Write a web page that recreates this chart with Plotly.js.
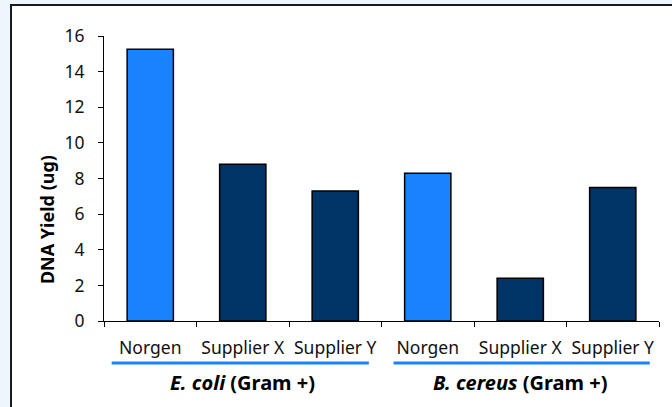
<!DOCTYPE html>
<html>
<head>
<meta charset="utf-8">
<script src="https://cdn.plot.ly/plotly-3.0.1.min.js"></script>
<style>
  html, body { margin: 0; padding: 0; background: #eef5fd; }
  #frame { position: absolute; left: 10px; top: 4px; width: 700px; height: 450px; background: #ffffff; border-left: 2px solid #1a1a1a; border-top: 2px solid #1a1a1a; }
  #chart { position: absolute; left: 0; top: 0; width: 672px; height: 407px; }
</style>
</head>
<body>
<div id="frame"></div>
<div id="chart"></div>
<script>
// Data
const categoryIds = ['E_Norgen', 'E_SupplierX', 'E_SupplierY', 'B_Norgen', 'B_SupplierX', 'B_SupplierY'];
const categoryLabels = ['Norgen', 'Supplier X', 'Supplier Y', 'Norgen', 'Supplier X', 'Supplier Y'];
const yieldValues = [15.25, 8.8, 7.3, 8.3, 2.4, 7.5];
const groupLabels = ['<i>E. coli</i> (Gram +)', '<i>B. cereus</i> (Gram +)'];
const groupCenters = [1, 4];
const yTicks = [0, 2, 4, 6, 8, 10, 12, 14, 16];
const yTitle = 'DNA Yield (ug)';

const lightBlue = '#1a82ff';
const navy = '#003366';
const barColors = categoryLabels.map(l => l === 'Norgen' ? lightBlue : navy);

const font = '"Noto Sans", "Open Sans", sans-serif';
const textColor = '#111111';

const trace = {
  type: 'bar',
  x: categoryIds,
  y: yieldValues,
  marker: { color: barColors, line: { color: '#000000', width: 1.5 } },
  hoverinfo: 'skip'
};

const annotations = groupLabels.map((t, i) => ({
  text: '<b>' + t + '</b>',
  x: groupCenters[i], xref: 'x',
  y: 0, yref: 'paper',
  yanchor: 'middle', xanchor: 'center',
  yshift: -61,
  showarrow: false,
  font: { family: font, size: 20, color: '#000000' }
}));

annotations.push({
  text: '<b>' + yTitle + '</b>',
  textangle: -90,
  xref: 'paper', yref: 'paper',
  x: -0.1027, y: 0.354,
  xanchor: 'center', yanchor: 'middle',
  showarrow: false,
  font: { family: font, size: 18, color: '#000000' }
});

const shapes = [
  { x0: -0.417, x1: 2.363 },
  { x0: 2.63, x1: 5.40 }
].map(s => ({
  type: 'line', xref: 'x', yref: 'paper',
  x0: s.x0, x1: s.x1, y0: -0.147, y1: -0.147,
  line: { color: lightBlue, width: 3 }
}));

const layout = {
  width: 672, height: 407,
  margin: { l: 104, r: 13, t: 36, b: 86 },
  paper_bgcolor: 'rgba(0,0,0,0)',
  plot_bgcolor: 'rgba(0,0,0,0)',
  showlegend: false,
  bargap: 0.5,
  font: { family: font, size: 17, color: textColor },
  xaxis: {
    type: 'category',
    tickvals: categoryIds,
    ticktext: categoryLabels,
    tickson: 'boundaries',
    tickangle: 0,
    ticks: 'outside', ticklen: 5, tickcolor: '#000000', tickwidth: 1,
    showline: true, linecolor: '#000000', linewidth: 1,
    showgrid: false, zeroline: false,
    ticklabelstandoff: 11,
    tickfont: { family: font, size: 17.5, color: textColor },
    range: [-0.5, 5.5]
  },
  yaxis: {
    range: [0, 16],
    tickvals: yTicks,
    ticks: 'outside', ticklen: 5, tickcolor: '#000000', tickwidth: 1,
    showline: true, linecolor: '#000000', linewidth: 1,
    showgrid: false, zeroline: false,
    ticklabelstandoff: 10,
    tickfont: { family: font, size: 17.5, color: textColor }
  },
  annotations: annotations,
  shapes: shapes
};

Plotly.newPlot('chart', [trace], layout, { displayModeBar: false, staticPlot: true });
</script>
</body>
</html>
